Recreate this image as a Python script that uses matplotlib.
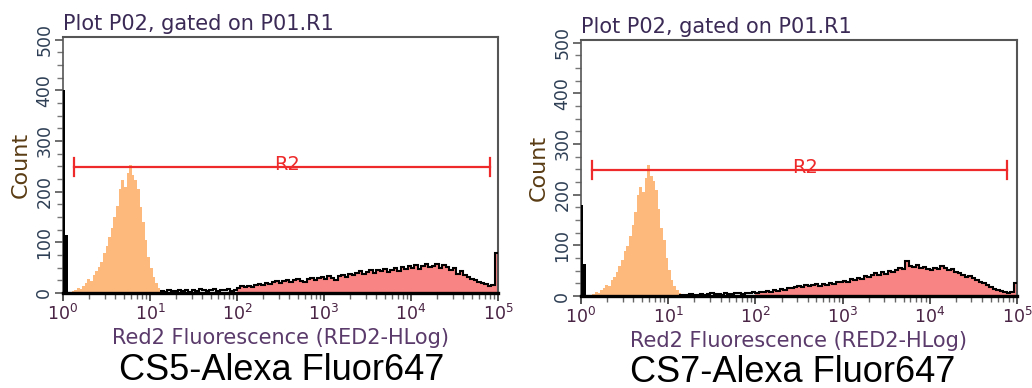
import numpy as np
import matplotlib
matplotlib.use("Agg")
import matplotlib.pyplot as plt
from matplotlib.ticker import MultipleLocator, FixedLocator, LogLocator, NullFormatter

# ---------------- data ----------------
panel_titles = ["Plot P02, gated on P01.R1", "Plot P02, gated on P01.R1"]
captions = ["CS5-Alexa Fluor647", "CS7-Alexa Fluor647"]
x_label = "Red2 Fluorescence (RED2-HLog)"
y_label = "Count"
gate_name = "R2"

# spike bins at the low end of the scale (log10 edges)
spike_log_edges = [0.0, 0.02, 0.06]
spike_left = [400, 115]
spike_right = [180, 64]

# negative-control (orange) histogram, log10 bins of 0.03 from 0.10
neg_log_start, neg_log_step = 0.10, 0.03
neg_left = [3, 6, 10, 8, 14, 20, 28, 24, 36, 44, 52, 62, 78, 92, 110, 128, 150,
            172, 205, 222, 210, 236, 252, 232, 222, 206, 170, 140, 105, 72, 50,
            32, 20, 10, 5, 2, 1]
neg_right = [2, 4, 8, 6, 12, 16, 22, 20, 32, 38, 48, 60, 72, 88, 98, 118, 140,
             165, 200, 215, 206, 232, 258, 236, 226, 210, 172, 135, 110, 74, 52,
             32, 20, 12, 6, 3, 1]

# stained (red) histogram, log10 bins of 0.04 from 1.12
pos_log_start, pos_log_step = 1.12, 0.04
pos_left = [4, 2, 5, 3, 4, 6, 3, 5, 2, 6, 4, 7, 5, 3, 6, 8, 4, 6, 5, 7, 4, 6,
            10, 14, 12, 13, 11, 15, 18, 16, 20, 17, 22, 24, 19, 23, 26, 21, 25, 28, 24, 22, 27, 30, 25, 29, 32,
            28, 33, 30, 26, 34, 36, 31, 38, 35, 40, 44, 38, 42, 46, 40, 45, 43, 48, 41, 46, 50, 44, 52, 47, 53,
            50, 55, 48, 53, 57, 51, 54, 58, 50, 55, 52, 46, 49, 38, 44, 35, 32, 28, 26, 22, 19, 18, 14, 16, 78]
pos_right = [1, 2, 1, 3, 2, 2, 4, 2, 3, 5, 3, 4, 2, 5, 4, 3, 5, 6, 4, 6, 5, 7,
             6, 8, 7, 9, 8, 11, 10, 14, 12, 16, 15, 18, 20, 17, 22, 19, 21, 24, 20, 23, 22, 26, 24, 28, 27,
             30, 28, 33, 31, 36, 34, 40, 37, 42, 45, 41, 47, 44, 50, 48, 52, 56, 54, 70, 60, 58, 62, 55, 57, 53,
             51, 55, 53, 59, 56, 52, 54, 48, 45, 42, 38, 40, 35, 31, 28, 26, 22, 18, 14, 12, 10, 8, 6, 7, 25]
fill_from_bin = 22  # pink fill starts at 10^2

# gate R2: (low, high, level)
gate_left = (10 ** 0.126, 10 ** 4.908, 249)
gate_right = (10 ** 0.123, 10 ** 4.89, 248)
gate_label_x = [10 ** 2.575, 10 ** 2.57]

y_ticks = [0, 100, 200, 300, 400, 500]

# ---------------- styling ----------------
ORANGE = "#fdb87c"
PINK = "#f98484"
RED = "#ee2a2a"

fig = plt.figure(figsize=(10.32, 3.88), dpi=100)
axes_rects = [(63 / 1032, (388 - 293) / 388, 435 / 1032, 256 / 388),
              (581 / 1032, (388 - 296) / 388, 436 / 1032, 256 / 388)]
caption_pos = [(282 / 1032, 1 - 371 / 388), (793 / 1032, 1 - 372 / 388)]

panels = [
    (neg_left, pos_left, spike_left, gate_left, gate_label_x[0]),
    (neg_right, pos_right, spike_right, gate_right, gate_label_x[1]),
]

for i, (neg, pos, spk, gate, glx) in enumerate(panels):
    ax = fig.add_axes(axes_rects[i])
    neg_edges = 10 ** (neg_log_start + neg_log_step * np.arange(len(neg) + 1))
    pos_edges = 10 ** (pos_log_start + pos_log_step * np.arange(len(pos) + 1))
    spk_edges = 10 ** np.array(spike_log_edges)

    ax.stairs(neg, neg_edges, fill=True, color=ORANGE, zorder=2)
    ax.stairs(pos[fill_from_bin:], pos_edges[fill_from_bin:], fill=True,
              color=PINK, zorder=2)
    ax.stairs(pos, pos_edges, baseline=None, color="black", lw=1.5, zorder=3)
    ax.stairs(spk, spk_edges, fill=True, color="black", zorder=3)

    lo, hi, lvl = gate
    ax.plot([lo, hi], [lvl, lvl], color=RED, lw=1.6, zorder=4)
    ax.plot([lo, lo], [lvl - 18, lvl + 18], color=RED, lw=1.6, zorder=4)
    ax.plot([hi, hi], [lvl - 18, lvl + 18], color=RED, lw=1.6, zorder=4)
    ax.text(glx, lvl + 5, gate_name, color=RED, fontsize=14, ha="center",
            va="center", zorder=5)

    ax.set_xscale("log")
    ax.set_xlim(1, 1e5)
    ax.set_ylim(0, 505)
    ax.xaxis.set_major_locator(LogLocator(base=10, numticks=10))
    ax.xaxis.set_minor_locator(LogLocator(base=10, subs=np.arange(2, 10), numticks=20))
    ax.xaxis.set_minor_formatter(NullFormatter())
    ax.yaxis.set_major_locator(FixedLocator(y_ticks))
    ax.yaxis.set_minor_locator(MultipleLocator(25))

    ax.tick_params(axis="x", which="major", length=6, width=1.2, color="#333333",
                   labelsize=12.5, labelcolor="#4a2444", pad=2)
    ax.tick_params(axis="x", which="minor", length=4, width=1.0, color="#666666")
    ax.tick_params(axis="y", which="major", length=6, width=1.2, color="#555555",
                   labelsize=12.5, labelcolor="#2e3f55", pad=1, labelrotation=90)
    ax.tick_params(axis="y", which="minor", length=4, width=1.0, color="#777777")
    for lab in ax.get_yticklabels():
        lab.set_va("center")

    ax.set_xlabel(x_label, fontsize=15, color="#5a3a6a", labelpad=3)
    ax.set_ylabel(y_label, fontsize=16, color="#5a3c14", labelpad=3)

    for side in ["top", "right"]:
        ax.spines[side].set_color("#555555")
        ax.spines[side].set_linewidth(1.5)
    ax.spines["left"].set_color("#555555")
    ax.spines["left"].set_linewidth(1.2)
    ax.spines["bottom"].set_color("black")
    ax.spines["bottom"].set_linewidth(2.4)

    ax.text(0.0, 1.027, panel_titles[i], transform=ax.transAxes, fontsize=15,
            color="#3a2a55", ha="left", va="baseline")

    cx, cy = caption_pos[i]
    fig.text(cx, cy, captions[i], fontsize=26, family="Liberation Sans",
             color="black", ha="center", va="center")

fig.savefig("out.png", dpi=100)
